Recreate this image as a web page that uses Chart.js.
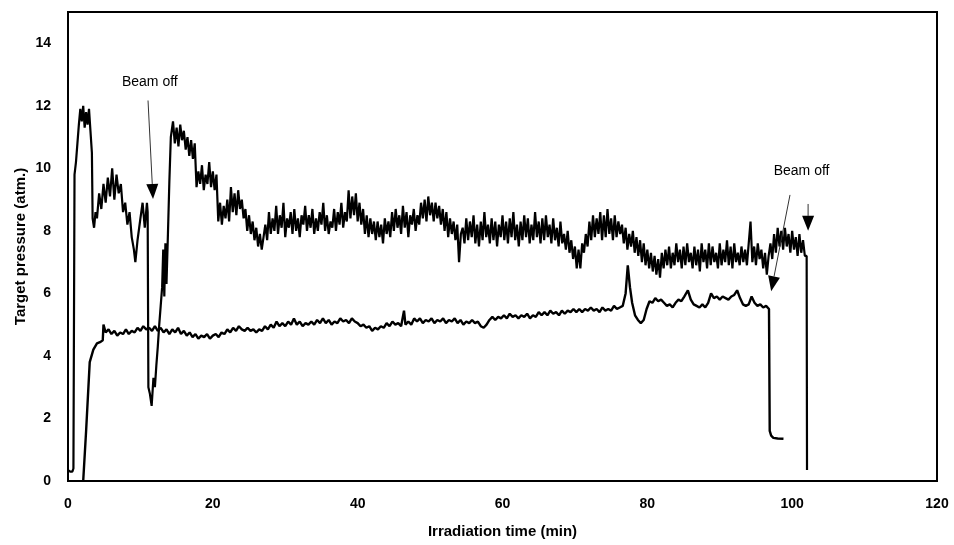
<!DOCTYPE html>
<html>
<head>
<meta charset="utf-8">
<script src="https://cdn.jsdelivr.net/npm/chart.js@4/dist/chart.umd.min.js"></script>
<style>
  html, body { margin: 0; padding: 0; background: #fff; }
  #pressureChart { display: block; }
</style>
</head>
<body>
<canvas id="pressureChart" width="954" height="545"></canvas>
<script>
  // run with the higher pressure (beam off at ~11 min and ~102 min)
  // first minutes, read point by point
  var upperHeadTime = [0, 0.3, 0.6, 0.75, 0.9, 1.1, 1.3, 1.5, 1.7, 1.9, 2.1, 2.3, 2.5, 2.7, 2.9, 3.1, 3.3, 3.4, 3.6, 3.8,
    4.0, 4.3, 4.6, 4.9, 5.2, 5.5, 5.8, 6.1, 6.4, 6.7, 7.0, 7.3, 7.6, 7.9, 8.2, 8.5, 8.8, 9.1, 9.3, 9.6, 10.0, 10.3, 10.6, 10.9, 11.0,
    11.1, 11.3, 11.55, 11.8, 12.0, 12.2, 12.4, 12.6, 12.8, 13.0, 13.15, 13.3, 13.45, 13.6, 13.8, 14.0, 14.2];
  var upperHeadPressure = [0.35, 0.3, 0.3, 0.4, 9.8, 10.2, 10.8, 11.4, 11.9, 11.5, 12.0, 11.3, 11.8, 11.4, 11.9, 11.2, 10.5, 8.4, 8.1, 8.6,
    8.4, 9.2, 8.7, 9.5, 8.9, 9.7, 9.1, 10.0, 9.0, 9.8, 9.2, 9.5, 8.6, 8.9, 8.2, 8.6, 7.8, 7.4, 7.0, 7.7, 8.4, 8.9, 8.1, 8.9, 8.6,
    3.0, 2.8, 2.4, 3.3, 3.0, 3.7, 4.3, 5.0, 5.6, 6.2, 7.4, 5.9, 7.6, 6.3, 7.9, 9.6, 11.0];
  // rest of the run, one reading every 0.25 min from 14.5 min
  var upperTraceStart = 14.5;
  var upperTraceStep = 0.25;
  var upperTrace = [
    11.5, 10.8, 11.3, 10.7, 11.4, 10.9, 11.2, 10.6,
    11.0, 10.4, 10.9, 10.3, 10.8, 9.4, 9.9, 9.5,
    10.1, 9.3, 9.8, 9.5, 10.2, 9.4, 9.9, 9.3,
    9.8, 8.3, 8.9, 8.2, 8.8, 8.4, 9.0, 8.3,
    9.4, 8.6, 9.2, 8.5, 9.3, 8.7, 9.0, 8.4,
    8.7, 8.0, 8.5, 7.9, 8.3, 7.7, 8.1, 7.5,
    7.9, 7.4, 7.8, 8.2, 7.7, 8.6, 7.9, 8.4,
    8.0, 8.8, 7.9, 8.5, 8.1, 8.9, 7.8, 8.4,
    8.1, 8.6, 7.9, 8.7, 8.0, 8.4, 7.8, 8.5,
    8.2, 8.8, 8.0, 8.5, 8.1, 8.7, 7.9, 8.4,
    8.0, 8.6, 8.2, 8.9, 8.0, 8.5, 7.9, 8.3,
    8.1, 8.7, 8.0, 8.6, 8.2, 8.9, 8.1, 8.6,
    8.3, 9.3, 8.4, 9.1, 8.5, 9.2, 8.3, 8.9,
    8.2, 8.7, 7.9, 8.5, 7.8, 8.4, 7.9, 8.3,
    7.7, 8.3, 7.8, 8.2, 7.6, 8.4, 7.9, 8.3,
    7.8, 8.6, 8.0, 8.7, 8.1, 8.5, 7.9, 8.8,
    8.1, 8.6, 7.8, 8.5, 8.2, 8.7, 8.0, 8.5,
    8.2, 8.9, 8.4, 9.0, 8.3, 9.1, 8.5, 8.9,
    8.3, 8.9, 8.4, 8.8, 8.2, 8.7, 8.0, 8.6,
    7.8, 8.4, 7.9, 8.3, 7.7, 8.2, 7.0, 7.9,
    8.1, 7.6, 8.4, 7.7, 8.3, 7.8, 8.5, 7.6,
    8.2, 7.5, 8.3, 7.7, 8.6, 7.8, 8.2, 7.6,
    8.4, 7.7, 8.3, 7.5, 8.2, 7.8, 8.5, 7.7,
    8.3, 7.6, 8.4, 7.8, 8.6, 7.7, 8.2, 7.5,
    8.3, 7.7, 8.5, 7.8, 8.4, 7.6, 8.2, 7.7,
    8.6, 7.8, 8.3, 7.6, 8.4, 7.7, 8.5, 7.8,
    8.2, 7.6, 8.4, 7.7, 8.1, 7.5, 8.3, 7.6,
    7.9, 7.4, 8.0, 7.3, 7.7, 7.1, 7.5, 6.8,
    7.4, 6.8, 7.6, 7.3, 7.9, 7.5, 8.3, 7.7,
    8.5, 7.8, 8.4, 7.9, 8.6, 7.7, 8.5, 7.8,
    8.7, 7.9, 8.4, 7.7, 8.5, 7.8, 8.3, 7.9,
    8.2, 7.6, 8.1, 7.4, 7.9, 7.5, 8.0, 7.3,
    7.8, 7.2, 7.7, 7.0, 7.6, 6.9, 7.4, 6.8,
    7.3, 6.7, 7.2, 6.6, 7.1, 6.5, 7.3, 6.8,
    7.4, 6.9, 7.5, 6.8, 7.3, 6.9, 7.6, 7.0,
    7.4, 6.8, 7.5, 6.9, 7.6, 7.0, 7.3, 6.8,
    7.5, 6.9, 7.4, 6.7, 7.6, 7.0, 7.4, 6.8,
    7.6, 6.9, 7.5, 7.0, 7.3, 6.8, 7.6, 6.9,
    7.4, 7.0, 7.7, 6.9, 7.5, 6.8, 7.6, 7.0,
    7.3, 6.9, 7.5, 7.0, 7.4, 6.9, 7.6, 8.3,
    7.0, 7.5, 6.9, 7.6, 7.1, 7.4, 6.8, 7.3,
    6.6, 7.2, 7.6, 7.1, 7.9, 7.3, 8.1, 7.5,
    8.0, 7.4, 8.1, 7.5, 7.9, 7.3, 8.0, 7.4,
    7.8, 7.2, 7.9, 7.3, 7.7, 7.2, 7.2];
  // beam off at the end
  var upperTailTime = [102.05];
  var upperTailPressure = [0.35];

  // run with the lower pressure (beam off at ~97 min)
  var lowerTime = [2.1, 2.5, 3.0, 3.5, 4.0, 4.5, 4.8, 4.9, 5.2, 5.6, 6.0, 6.4, 6.8, 7.2, 7.6, 8.0, 8.4, 8.8, 9.2, 9.6,
    10.0, 10.4, 10.8, 11.2, 11.6, 12.0, 12.4, 12.8, 13.2, 13.6, 14.0, 14.4, 14.8, 15.2, 15.6, 16.0, 16.4, 16.8,
    17.2, 17.6, 18.0, 18.4, 18.8, 19.2, 19.6, 20.0, 20.4, 20.8, 21.2, 21.6, 22.0, 22.4, 22.8, 23.2, 23.6, 24.0,
    24.4, 24.8, 25.2, 25.6, 26.0, 26.4, 26.8, 27.2, 27.6, 28.0, 28.4, 28.8, 29.2, 29.6, 30.0, 30.4, 30.8, 31.2,
    31.6, 32.0, 32.4, 32.8, 33.2, 33.6, 34.0, 34.4, 34.8, 35.2, 35.6, 36.0, 36.4, 36.8, 37.2, 37.6, 38.0, 38.4,
    38.8, 39.2, 39.6, 40.0, 40.4, 40.8, 41.2, 41.6, 42.0, 42.4, 42.8, 43.2, 43.6, 44.0, 44.4, 44.8, 45.2, 45.6,
    46.0, 46.4, 46.6, 47.0, 47.4, 47.8, 48.2, 48.6, 49.0, 49.4, 49.8, 50.2, 50.6, 51.0, 51.4, 51.8, 52.2, 52.6,
    53.0, 53.4, 53.8, 54.2, 54.6, 55.0, 55.4, 55.8, 56.2, 56.6, 57.0, 57.4, 57.8, 58.2, 58.6, 59.0, 59.4, 59.8,
    60.2, 60.6, 61.0, 61.4, 61.8, 62.2, 62.6, 63.0, 63.4, 63.8, 64.2, 64.6, 65.0, 65.4, 65.8, 66.2, 66.6, 67.0,
    67.4, 67.8, 68.2, 68.6, 69.0, 69.4, 69.8, 70.2, 70.6, 71.0, 71.4, 71.8, 72.2, 72.6, 73.0, 73.4, 73.8, 74.2,
    74.6, 75.0, 75.4, 75.8, 76.2, 76.6, 77.0, 77.3, 77.6, 77.9, 78.3, 78.7, 79.1, 79.5, 79.9, 80.3, 80.7, 81.1,
    81.5, 81.9, 82.3, 82.7, 83.1, 83.5, 83.9, 84.3, 84.7, 85.1, 85.6, 86.0, 86.4, 86.8, 87.2, 87.6, 88.0, 88.4,
    88.8, 89.2, 89.6, 90.0, 90.4, 90.8, 91.2, 91.6, 92.0, 92.4, 92.8, 93.2, 93.6, 94.0, 94.4, 94.8, 95.2, 95.6,
    96.0, 96.4, 96.8, 96.9, 97.1, 97.4, 98.0, 98.8];
  var lowerPressure = [0.0, 1.6, 3.8, 4.2, 4.4, 4.45, 4.5, 5.0, 4.75, 4.85, 4.7, 4.8, 4.65, 4.75, 4.7, 4.85, 4.7, 4.8, 4.75, 4.9,
    4.8, 4.95, 4.85, 4.9, 4.8, 4.95, 4.8, 4.9, 4.75, 4.85, 4.7, 4.85, 4.75, 4.9, 4.7, 4.8, 4.65, 4.75,
    4.6, 4.7, 4.55, 4.65, 4.6, 4.7, 4.55, 4.65, 4.7, 4.6, 4.75, 4.7, 4.85, 4.75, 4.9, 4.8, 4.95, 4.85,
    4.8, 4.9, 4.8, 4.85, 4.75, 4.85, 4.8, 4.95, 4.85, 5.0, 4.9, 5.1, 4.95, 5.05, 4.95, 5.1, 5.0, 5.2,
    5.0, 5.1, 4.95, 5.05, 5.0, 5.1, 5.0, 5.15, 5.05, 5.2, 5.05, 5.15, 5.0, 5.1, 5.05, 5.2, 5.1, 5.15,
    5.05, 5.2, 5.1, 5.05, 4.95, 5.0, 4.9, 4.95, 4.8, 4.9, 4.85, 4.95, 4.9, 5.05, 4.95, 5.1, 5.0, 5.05,
    4.95, 5.45, 5.0, 5.1, 5.0, 5.2, 5.1, 5.2, 5.05, 5.15, 5.1, 5.2, 5.05, 5.15, 5.1, 5.2, 5.05, 5.15,
    5.1, 5.2, 5.05, 5.15, 5.0, 5.1, 5.05, 5.15, 5.05, 5.1, 4.95, 4.9, 5.0, 5.15, 5.25, 5.15, 5.25, 5.2,
    5.3, 5.2, 5.35, 5.25, 5.3, 5.2, 5.3, 5.25, 5.35, 5.2, 5.3, 5.25, 5.4, 5.3, 5.4, 5.3, 5.45, 5.35,
    5.4, 5.3, 5.45, 5.35, 5.45, 5.4, 5.5, 5.4, 5.5, 5.4, 5.5, 5.45, 5.55, 5.45, 5.5, 5.4, 5.55, 5.45,
    5.5, 5.45, 5.6, 5.5, 5.55, 5.6, 6.0, 6.9, 6.2, 5.7, 5.3, 5.15, 5.05, 5.15, 5.5, 5.75, 5.7, 5.85,
    5.75, 5.8, 5.7, 5.6, 5.65, 5.55, 5.7, 5.8, 5.75, 5.9, 6.1, 5.8, 5.65, 5.6, 5.55, 5.65, 5.55, 5.7,
    6.0, 5.85, 5.9, 5.8, 5.9, 5.85, 5.8, 5.9, 5.95, 6.1, 5.85, 5.65, 5.6, 5.65, 5.9, 5.7, 5.6, 5.65,
    5.55, 5.6, 5.5, 1.6, 1.45, 1.38, 1.36, 1.35];

  var xTicks = [0, 20, 40, 60, 80, 100, 120];
  var yTicks = [0, 2, 4, 6, 8, 10, 12, 14];

  // "Beam off" notes, in data units
  var noteText = ['Beam off', 'Beam off'];
  var noteTime = [11.3, 101.3];
  var notePressure = [12.75, 9.92];
  var arrowFromTime = [11.05, 99.7, 102.2];
  var arrowFromPressure = [12.17, 9.15, 8.86];
  var arrowTipTime = [11.74, 97.1, 102.2];
  var arrowTipPressure = [9.02, 6.07, 8.0];

  function toPoints(xs, ys) {
    return xs.map(function (x, i) { return { x: x, y: ys[i] }; });
  }

  function upperPoints() {
    var pts = toPoints(upperHeadTime, upperHeadPressure);
    upperTrace.forEach(function (p, i) {
      pts.push({ x: upperTraceStart + i * upperTraceStep, y: p });
    });
    return pts.concat(toPoints(upperTailTime, upperTailPressure));
  }

  var frameAndNotes = {
    id: 'frameAndNotes',
    afterDatasetsDraw: function (chart) {
      var ctx = chart.ctx;
      var a = chart.chartArea;
      var sx = chart.scales.x;
      var sy = chart.scales.y;
      ctx.save();
      // top and right edges of the box
      ctx.strokeStyle = '#000';
      ctx.lineWidth = 2;
      ctx.beginPath();
      ctx.moveTo(a.left, a.top);
      ctx.lineTo(a.right, a.top);
      ctx.lineTo(a.right, a.bottom);
      ctx.stroke();

      ctx.fillStyle = '#000';
      ctx.font = '14px "Liberation Sans", Arial, sans-serif';
      ctx.textAlign = 'center';
      ctx.textBaseline = 'middle';
      for (var i = 0; i < noteText.length; i++) {
        ctx.fillText(noteText[i], sx.getPixelForValue(noteTime[i]), sy.getPixelForValue(notePressure[i]));
      }

      for (var j = 0; j < arrowFromTime.length; j++) {
        var x1 = sx.getPixelForValue(arrowFromTime[j]);
        var y1 = sy.getPixelForValue(arrowFromPressure[j]);
        var x2 = sx.getPixelForValue(arrowTipTime[j]);
        var y2 = sy.getPixelForValue(arrowTipPressure[j]);
        var ang = Math.atan2(y2 - y1, x2 - x1);
        var headLen = 15, headHalf = 6;
        var bx = x2 - headLen * Math.cos(ang);
        var by = y2 - headLen * Math.sin(ang);
        ctx.strokeStyle = '#333';
        ctx.lineWidth = 1;
        ctx.beginPath();
        ctx.moveTo(x1, y1);
        ctx.lineTo(bx, by);
        ctx.stroke();
        ctx.beginPath();
        ctx.moveTo(x2, y2);
        ctx.lineTo(bx + headHalf * Math.sin(ang), by - headHalf * Math.cos(ang));
        ctx.lineTo(bx - headHalf * Math.sin(ang), by + headHalf * Math.cos(ang));
        ctx.closePath();
        ctx.fill();
      }
      ctx.restore();
    }
  };

  var tickFont = { family: '"Liberation Sans", Arial, sans-serif', size: 14, weight: 'bold' };
  var titleFont = { family: '"Liberation Sans", Arial, sans-serif', size: 15, weight: 'bold' };

  Chart.defaults.color = '#000';

  var ctx = document.getElementById('pressureChart').getContext('2d');
  window.pressureChart = new Chart(ctx, {
    type: 'line',
    data: {
      datasets: [{
        label: 'Run 1',
        data: upperPoints(),
        borderColor: '#000',
        borderWidth: 2.2,
        borderJoinStyle: 'bevel',
        pointRadius: 0,
        tension: 0,
        fill: false
      }, {
        label: 'Run 2',
        data: toPoints(lowerTime, lowerPressure),
        borderColor: '#000',
        borderWidth: 2.4,
        borderJoinStyle: 'bevel',
        pointRadius: 0,
        tension: 0,
        fill: false
      }]
    },
    options: {
      responsive: false,
      animation: false,
      layout: { padding: { top: 12, right: 17, left: 0, bottom: 0 } },
      plugins: {
        legend: { display: false },
        tooltip: { enabled: false }
      },
      scales: {
        x: {
          type: 'linear',
          min: 0,
          max: 120,
          afterFit: function (scale) {
            scale.height = 64;
            scale.paddingLeft = 0;
            scale.paddingRight = 0;
          },
          afterBuildTicks: function (scale) {
            scale.ticks = xTicks.map(function (v) { return { value: v }; });
          },
          grid: { display: false, drawTicks: false },
          border: { display: true, color: '#000', width: 2 },
          ticks: { font: tickFont, padding: 15, maxRotation: 0 },
          title: { display: true, text: 'Irradiation time (min)', font: titleFont, padding: { top: 4, bottom: 4 } }
        },
        y: {
          min: 0,
          max: 15,
          afterFit: function (scale) {
            scale.width = 68;
            scale.paddingTop = 0;
            scale.paddingBottom = 0;
          },
          afterBuildTicks: function (scale) {
            scale.ticks = yTicks.map(function (v) { return { value: v }; });
          },
          grid: { display: false, drawTicks: false },
          border: { display: true, color: '#000', width: 2 },
          ticks: { font: tickFont, padding: 17 },
          title: { display: true, text: 'Target pressure (atm.)', font: titleFont, padding: { top: 12, bottom: 0 } }
        }
      }
    },
    plugins: [frameAndNotes]
  });
</script>
</body>
</html>
